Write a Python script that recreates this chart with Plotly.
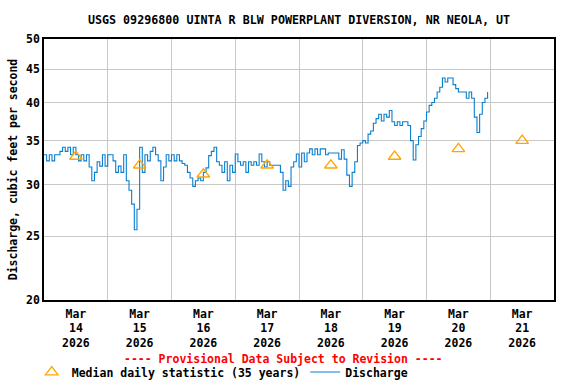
import pandas as pd
import plotly.graph_objects as go

# Discharge, hourly readings starting 2026-03-14 00:00 (cfs)
discharge = [
    33.3, 32.6, 33.3, 32.6, 33.3, 33.3, 33.7, 34.2, 33.7, 34.2, 33.3, 34.2,
    33.3, 32.6, 33.3, 32.6, 33.3, 31.9, 30.4, 31.3, 32.5, 32.0, 33.3, 32.0,
    33.3, 33.3, 32.6, 31.3, 32.0, 31.3, 33.3, 30.4, 29.4, 28.0, 25.6, 27.5,
    34.2, 31.3, 33.3, 32.6, 33.7, 34.2, 33.3, 32.6, 30.4, 31.9, 33.3, 32.6,
    33.3, 32.6, 33.3, 32.6, 32.3, 32.1, 31.3, 30.7, 29.8, 30.4, 30.7, 30.4,
    31.3, 31.8, 33.2, 33.7, 34.2, 32.5, 32.1, 31.3, 32.5, 30.4, 32.1, 31.3,
    33.4, 32.5, 32.1, 32.5, 31.3, 32.5, 32.1, 32.5, 32.1, 33.4, 32.5, 31.9,
    32.5, 32.1, 32.1, 32.1, 32.1, 31.3, 29.4, 30.4, 29.8, 31.9, 32.5, 33.4,
    31.9, 33.5, 32.5, 33.5, 34.0, 33.3, 34.0, 33.3, 34.0, 34.0, 33.3, 33.5,
    33.5, 33.5, 33.5, 32.8, 33.9, 32.8, 31.0, 29.8, 31.3, 32.5, 34.4, 34.7,
    35.0, 34.7, 35.8, 36.2, 37.2, 37.8, 38.4, 37.5, 38.4, 38.0, 38.9, 37.4,
    36.9, 37.4, 36.9, 37.4, 37.4, 36.9, 35.0, 32.7, 34.5, 35.5, 36.5, 37.5,
    38.7, 39.6, 40.0, 40.6, 41.5, 42.2, 43.6, 43.0, 43.6, 43.6, 42.6, 42.0,
    41.5, 41.5, 41.5, 40.6, 41.5, 40.6, 38.0, 36.0, 38.4, 40.0, 40.6, 41.5,
]
discharge_start = "2026-03-14 00:00"

median_dates = ["2026-03-14 12:00", "2026-03-15 12:00", "2026-03-16 12:00",
                "2026-03-17 12:00", "2026-03-18 12:00", "2026-03-19 12:00",
                "2026-03-20 12:00", "2026-03-21 12:00"]
median_values = [33.1, 32.1, 31.1, 32.1, 32.1, 33.1, 34.0, 35.0]

day_grid = ["2026-03-%02d" % d for d in range(14, 23)]
tick_labels = ["Mar<br>%d<br>2026" % d for d in range(14, 22)]
y_ticks = [20, 25, 30, 35, 40, 45, 50]

times = pd.date_range(discharge_start, periods=len(discharge), freq="h")

FONT = "DejaVu Sans Mono"
fig = go.Figure()
fig.add_trace(go.Scatter(
    x=median_dates, y=median_values, mode="markers", xaxis="x2",
    name="Median daily statistic (35 years)",
    marker=dict(symbol="triangle-up-open", size=11, color="#FFA500",
                line=dict(width=1.3, color="#FFA500")),
))
fig.add_trace(go.Scatter(
    x=times, y=discharge, mode="lines", name="Discharge",
    line=dict(color="#0a7fcf", width=1.1, shape="hv"),
))

fig.update_layout(
    width=576, height=384,
    margin=dict(l=44, r=22, t=39, b=84, autoexpand=False),
    paper_bgcolor="white", plot_bgcolor="white",
    font=dict(family=FONT, size=11.5, color="black"),
    title=dict(text="USGS 09296800 UINTA R BLW POWERPLANT DIVERSION, NR NEOLA, UT",
               xref="paper", x=0.5, xanchor="center", y=1 - 20 / 384, yanchor="middle",
               font=dict(family=FONT, size=11.7, weight="bold", color="black")),
    xaxis=dict(range=["2026-03-14", "2026-03-22"], tickvals=day_grid,
               showticklabels=False, ticks="", showgrid=True, automargin=False,
               gridcolor="#c8c8c8", gridwidth=1, showline=True,
               linecolor="black", linewidth=1.5, mirror=True, zeroline=False),
    xaxis2=dict(overlaying="x", matches="x", side="bottom", automargin=False,
                tickvals=[d for d in median_dates], ticktext=tick_labels,
                showgrid=False, ticks="", showline=False, zeroline=False,
                ticklabelstandoff=5,
                tickfont=dict(family=FONT, size=11.5, weight="bold")),
    yaxis=dict(type="log", range=[1.30103, 1.69897], tickvals=y_ticks,
               ticktext=[str(v) for v in y_ticks], showgrid=True, automargin=False,
               gridcolor="#c8c8c8", gridwidth=1, showline=True,
               linecolor="black", linewidth=1.5, mirror=True, ticks="",
               zeroline=False,
               tickfont=dict(family=FONT, size=11.5, weight="bold"),
               title=dict(text="Discharge, cubic feet per second", standoff=6,
                          font=dict(family=FONT, size=11.5, weight="bold"))),
    legend=dict(orientation="h", x=-0.024, xanchor="left", y=-0.276,
                yanchor="middle", font=dict(family=FONT, size=11.5, weight="bold"),
                bgcolor="rgba(0,0,0,0)", tracegroupgap=0, itemwidth=30),
    showlegend=True,
)
fig.add_annotation(text="---- Provisional Data Subject to Revision ----",
                   xref="paper", yref="paper", x=0.47, y=-0.225,
                   xanchor="center", yanchor="middle", showarrow=False,
                   font=dict(family=FONT, size=11.5, weight="bold", color="red"))

fig.write_html("out.html", config={"displayModeBar": False},
               post_script="document.body.style.margin='0';document.body.style.overflow='hidden';")
